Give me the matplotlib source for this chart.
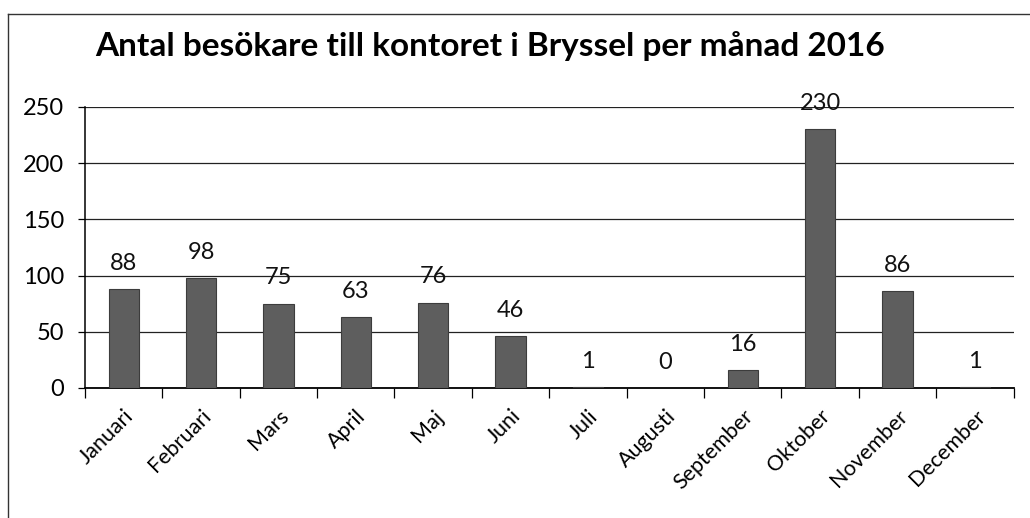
import numpy as np
import matplotlib.pyplot as plt
from matplotlib.lines import Line2D

manader = ["Januari", "Februari", "Mars", "April", "Maj", "Juni", "Juli",
           "Augusti", "September", "Oktober", "November", "December"]
besokare = [88, 98, 75, 63, 76, 46, 1, 0, 16, 230, 86, 1]
yticks = [0, 50, 100, 150, 200, 250]

plt.rcParams['font.family'] = ['Lato', 'DejaVu Sans']

fig = plt.figure(figsize=(10.3, 5.18), dpi=100)
ax = fig.add_axes([0.0825, 0.251, 0.9015, 0.5425])

x = np.arange(len(manader))
ax.bar(x, besokare, width=0.39, color='#5e5e5e', edgecolor='#3c3c3c',
       linewidth=0.8, zorder=3)
for xi, v in zip(x, besokare):
    ax.annotate(str(v), (xi, v), xytext=(0, 11), textcoords='offset points',
                ha='center', va='bottom', fontsize=17, color='#111111', zorder=4)

ax.set_xlim(-0.5, len(manader) - 0.5)
ax.set_ylim(0, 250)
ax.set_yticks(yticks)
ax.set_yticklabels([str(t) for t in yticks], fontsize=17)
ax.yaxis.grid(True, color='#222222', linewidth=0.9)
ax.set_axisbelow(True)

ax.set_xticks(x)
ax.set_xticklabels(manader, rotation=45, ha='right', rotation_mode='anchor',
                   fontsize=15.5)
ax.tick_params(axis='x', length=0, pad=13)
ax.set_xticks(np.arange(-0.5, len(manader)), minor=True)
ax.tick_params(axis='x', which='minor', length=7, width=0.9, direction='out')
ax.tick_params(axis='y', length=5, width=0.9, direction='out', pad=10)

for s in ['top', 'right']:
    ax.spines[s].set_visible(False)
ax.spines['left'].set_linewidth(1.1)
ax.spines['bottom'].set_linewidth(1.3)

fig.text(0.092, 0.912, "Antal besökare till kontoret i Bryssel per månad 2016",
         fontsize=24, fontweight='bold', ha='left', va='center')

# ram runt diagrammet
fig.add_artist(Line2D([0.0078, 0.0078], [0.0, 0.973], transform=fig.transFigure,
                      color='#333333', linewidth=1.0))
fig.add_artist(Line2D([0.0078, 1.0], [0.973, 0.973], transform=fig.transFigure,
                      color='#333333', linewidth=1.0))

fig.savefig("out.png", dpi=100)
